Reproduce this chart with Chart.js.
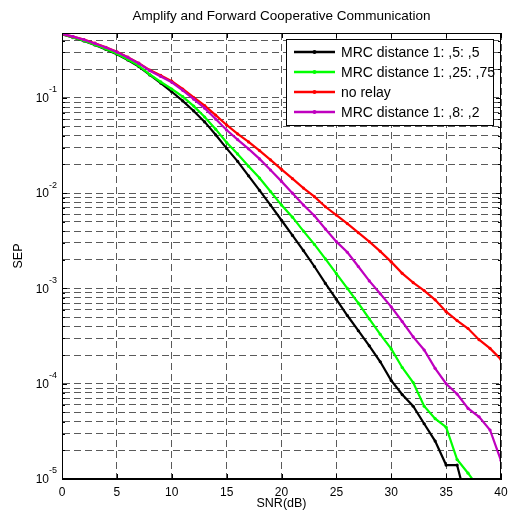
<!DOCTYPE html>
<html lang="en">
<head>
<meta charset="UTF-8">
<title>Amplify and Forward Cooperative Communication</title>
<script src="https://cdn.jsdelivr.net/npm/chart.js@4.4.0/dist/chart.umd.min.js"></script>
<style>
  html, body { margin: 0; padding: 0; background: #fff; }
</style>
</head>
<body>
<canvas id="chart" width="509" height="523"></canvas>
<script>
    // SNR in dB, one point per dB
    const snr = [0, 1, 2, 3, 4, 5, 6, 7, 8, 9, 10, 11, 12, 13, 14, 15, 16, 17, 18, 19, 20,
        21, 22, 23, 24, 25, 26, 27, 28, 29, 30, 31, 32, 33, 34, 35, 36, 37, 38, 39, 40];

    // SEP values (null = below the plotted range)
    const mrcHalf = [0.465, 0.43, 0.396, 0.36, 0.323, 0.287, 0.25, 0.213, 0.174, 0.143, 0.116,
        0.093, 0.073, 0.056, 0.041, 0.0295, 0.0216, 0.0152, 0.0107, 0.0075, 0.0052,
        0.0036, 0.0025, 0.0017, 0.00113, 0.00077, 0.00052, 0.00036, 0.00025, 0.00017, 0.000108,
        0.000077, 0.000058, 0.000038, 0.000025, 0.000014, 0.000014, 0.000005, null, null, null];

    const mrcQuarter = [0.466, 0.432, 0.398, 0.362, 0.326, 0.29, 0.253, 0.217, 0.176, 0.147, 0.124,
        0.103, 0.082, 0.063, 0.047, 0.034, 0.0258, 0.0192, 0.0144, 0.0104, 0.0075,
        0.0056, 0.004, 0.0029, 0.00204, 0.00143, 0.001, 0.0007, 0.00048, 0.00033, 0.000232,
        0.000148, 0.000103, 0.000058, 0.000043, 0.000035, 0.000016, 0.0000115, 0.000008, null, null];

    const noRelay = [0.47, 0.44, 0.41, 0.375, 0.34, 0.305, 0.268, 0.232, 0.196, 0.172, 0.15,
        0.124, 0.101, 0.083, 0.066, 0.052, 0.042, 0.0345, 0.028, 0.0224, 0.0178,
        0.0142, 0.0113, 0.0092, 0.0072, 0.0059, 0.0048, 0.00385, 0.0031, 0.00245, 0.0019,
        0.00144, 0.00115, 0.00095, 0.00076, 0.00057, 0.00046, 0.00038, 0.00029, 0.000235, 0.00018];

    const mrcEight = [0.47, 0.44, 0.408, 0.373, 0.338, 0.303, 0.266, 0.23, 0.193, 0.168, 0.146,
        0.12, 0.097, 0.078, 0.06, 0.046, 0.0365, 0.0292, 0.0229, 0.0175, 0.0133,
        0.01, 0.0075, 0.0058, 0.0042, 0.0031, 0.0024, 0.0017, 0.0012, 0.00088, 0.00064,
        0.00045, 0.00031, 0.000226, 0.000145, 0.0001, 0.000078, 0.000055, 0.000045, 0.0000327, 0.0000156];

    const seriesLabels = ['MRC distance 1: ,5: ,5', 'MRC distance 1: ,25: ,75', 'no relay', 'MRC distance 1: ,8: ,2'];
    const chartTitle = 'Amplify and Forward Cooperative Communication';

    // axes
    const xTicks = [0, 5, 10, 15, 20, 25, 30, 35, 40];
    const yDecades = [1e-5, 1e-4, 1e-3, 1e-2, 1e-1];
    const yDecadeExp = ['-5', '-4', '-3', '-2', '-1'];
    const yMin = 1e-5;
    const yMax = 0.48;

    const gridColor = '#5a5a5a';
    const font = "'Liberation Sans', Arial, sans-serif";

    function line(label, data, color, order) {
        return {
            label: label,
            data: data,
            borderColor: color,
            backgroundColor: color,
            borderWidth: 2.2,
            pointRadius: 1.6,
            pointHoverRadius: 1.6,
            pointBorderWidth: 0,
            tension: 0,
            spanGaps: false,
            order: order
        };
    }

    // title, frame, inner tick marks, y labels with exponents, legend
    const matlabLook = {
        id: 'matlabLook',
        afterDraw(chart) {
            const {ctx, chartArea: a, scales: {x, y}} = chart;
            ctx.save();

            ctx.fillStyle = '#000';
            ctx.font = '13.5px ' + font;
            ctx.textAlign = 'center';
            ctx.textBaseline = 'middle';
            ctx.fillText(chartTitle, (a.left + a.right) / 2, 16);

            ctx.strokeStyle = '#000';
            ctx.lineWidth = 1;
            ctx.setLineDash([]);
            ctx.beginPath();
            x.ticks.forEach(t => {
                const px = Math.round(x.getPixelForValue(t.value)) + 0.5;
                ctx.moveTo(px, a.bottom); ctx.lineTo(px, a.bottom - 5);
                ctx.moveTo(px, a.top); ctx.lineTo(px, a.top + 5);
            });
            y.ticks.forEach(t => {
                const py = Math.round(y.getPixelForValue(t.value)) + 0.5;
                const len = t.major ? 5 : 3;
                ctx.moveTo(a.left, py); ctx.lineTo(a.left + len, py);
                ctx.moveTo(a.right, py); ctx.lineTo(a.right - len, py);
            });
            ctx.stroke();
            ctx.strokeRect(Math.round(a.left) + 0.5, Math.round(a.top) + 0.5,
                Math.round(a.width) - 1, Math.round(a.height) - 1);

            // y tick labels 10^n
            yDecades.forEach((v, i) => {
                const py = y.getPixelForValue(v);
                ctx.font = '12px ' + font;
                ctx.textAlign = 'right';
                ctx.fillText('10', a.left - 13, py + 1);
                ctx.font = '9px ' + font;
                ctx.textAlign = 'left';
                ctx.fillText(yDecadeExp[i], a.left - 13, py - 8);
            });

            // legend box
            const lx = 286, ly = 39, lw = 207, lh = 86;
            ctx.fillStyle = '#fff';
            ctx.fillRect(lx, ly, lw, lh);
            ctx.strokeStyle = '#000';
            ctx.lineWidth = 1;
            ctx.strokeRect(lx + 0.5, ly + 0.5, lw, lh);
            ctx.font = '14px ' + font;
            ctx.textAlign = 'left';
            ctx.textBaseline = 'middle';
            chart.data.datasets.forEach((ds, i) => {
                const ry = 52 + i * 20;
                ctx.strokeStyle = ds.borderColor;
                ctx.lineWidth = 2.5;
                ctx.beginPath();
                ctx.moveTo(294, ry); ctx.lineTo(335, ry);
                ctx.stroke();
                ctx.fillStyle = ds.borderColor;
                ctx.beginPath();
                ctx.arc(314.5, ry, 2, 0, Math.PI * 2);
                ctx.fill();
                ctx.fillStyle = '#000';
                ctx.fillText(ds.label, 341, ry + 1);
            });
            ctx.restore();
        }
    };

    new Chart(document.getElementById('chart'), {
        type: 'line',
        data: {
            labels: snr,
            datasets: [
                line(seriesLabels[0], mrcHalf, '#000000', 4),
                line(seriesLabels[1], mrcQuarter, '#00ff00', 3),
                line(seriesLabels[2], noRelay, '#ff0000', 2),
                line(seriesLabels[3], mrcEight, '#bf00bf', 1)
            ]
        },
        options: {
            responsive: false,
            animation: false,
            events: [],
            layout: {padding: {left: 0, right: 0, top: 33, bottom: 0}},
            plugins: {
                legend: {display: false},
                tooltip: {enabled: false},
                title: {display: false}
            },
            scales: {
                x: {
                    type: 'linear',
                    min: 0,
                    max: 40,
                    afterBuildTicks: scale => {
                        scale.ticks = xTicks.map(v => ({value: v}));
                    },
                    afterFit: scale => {
                        scale.height = 44;
                        scale.paddingLeft = 0;
                        scale.paddingRight = 8;
                    },
                    ticks: {
                        color: '#000',
                        font: {family: font, size: 12},
                        padding: 6,
                        maxRotation: 0,
                        autoSkip: false
                    },
                    grid: {color: gridColor, lineWidth: 1, drawTicks: false},
                    border: {display: true, color: '#000', dash: [7, 4]},
                    title: {
                        display: true,
                        text: 'SNR(dB)',
                        color: '#000',
                        font: {family: font, size: 12.5},
                        padding: {top: 0, bottom: 12}
                    }
                },
                y: {
                    type: 'logarithmic',
                    min: yMin,
                    max: yMax,
                    afterBuildTicks: scale => {
                        const ticks = [];
                        yDecades.forEach(d => {
                            for (let m = 1; m <= 9; m++) {
                                const v = d * m;
                                if (v <= yMax) ticks.push({value: v, major: m === 1});
                            }
                        });
                        scale.ticks = ticks;
                    },
                    afterFit: scale => { scale.width = 62; },
                    ticks: {display: false},
                    grid: {color: gridColor, lineWidth: 1, drawTicks: false},
                    border: {display: true, color: '#000', dash: [7, 4]},
                    title: {
                        display: true,
                        text: 'SEP',
                        color: '#000',
                        font: {family: font, size: 12.5},
                        padding: {top: 11, bottom: 0}
                    }
                }
            }
        },
        plugins: [matlabLook]
    });
</script>
</body>
</html>
